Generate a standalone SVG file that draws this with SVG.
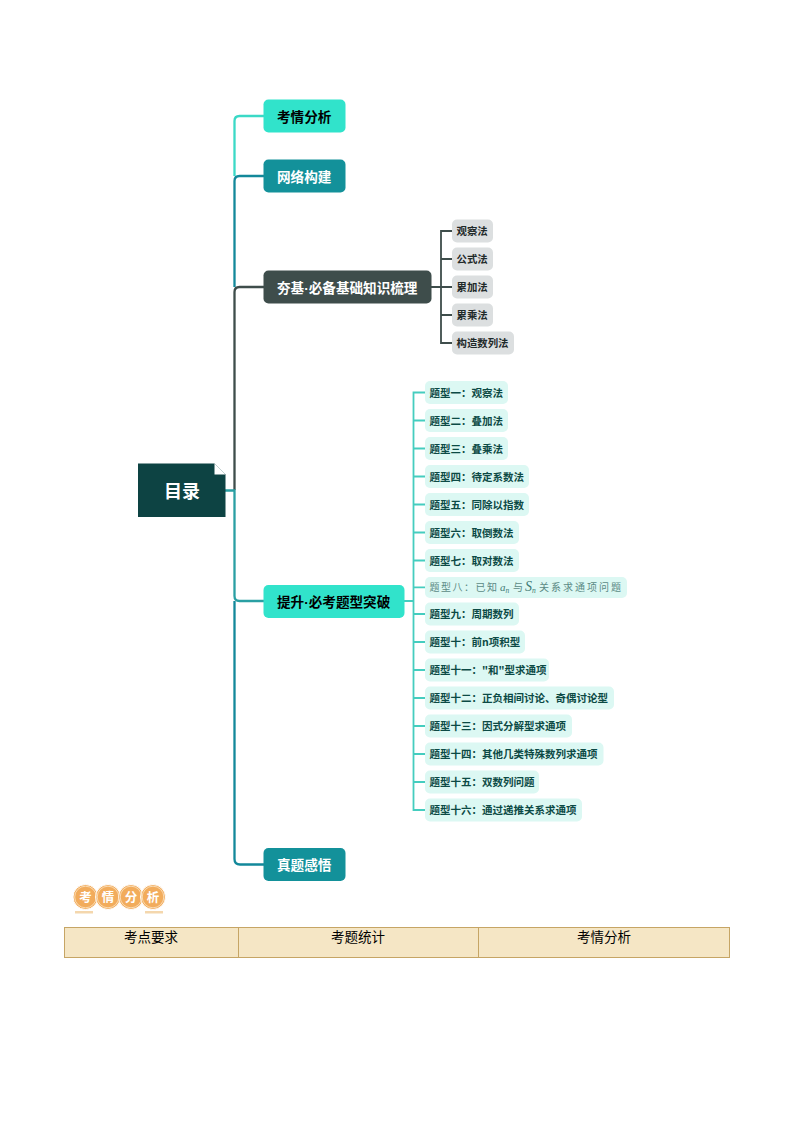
<svg xmlns="http://www.w3.org/2000/svg" width="794" height="1123" viewBox="0 0 794 1123">
<style>
text{font-family:"Noto Sans CJK SC","Noto Sans",sans-serif;font-weight:700}
.main{font-size:13.6px;text-anchor:start}
.dot{font-family:"Liberation Sans",sans-serif}
.l1{fill:#31e3cb}.t1{fill:#000}
.l2{fill:#13919a}.t2{fill:#fff}
.l3{fill:#3e4d4b}
.g{fill:#dcdfe0}.gt{font-size:10.4px;fill:#1f2a2a}
.q{fill:#dcf8f3}.qt{font-size:10.5px;fill:#0c4a45}
.q8t{font-size:10px;font-weight:400;fill:#5b8a85}
.q8m{font-family:"Liberation Serif",serif;font-style:italic;font-weight:400;fill:#3f7a74}
.c{fill:none;stroke-width:2.300}
.cl{stroke:#3bd9c6}.ct{stroke:#13889a}.cm{stroke:#2a9fa3}.cd{stroke:#3e4d4b}
.cq{fill:none;stroke:#45cdbf;stroke-width:1.800}
.cg{fill:none;stroke:#3e4d4b;stroke-width:1.800}
.badge{fill:#f2ac5c;stroke:#fff;stroke-width:1}
.badgeRing{fill:none;stroke:#fbe6c8;stroke-width:.8}
.bt{font-size:12.500px;fill:#fff;text-anchor:middle}
.bar{fill:#f4d7ad}
.th{font-size:13.500px;font-weight:400;fill:#000;text-anchor:middle}
.cell{fill:#f5e6c5;stroke:#c6a565;stroke-width:1}
</style>
<g id="connectors">
<path class="c cl" d="M234.500 176V121Q234.500 116 239.500 116H264"/>
<path class="c ct" d="M234.500 287V181Q234.500 176 239.500 176H264"/>
<path class="c cd" d="M234.500 490V292Q234.500 287 239.500 287H264"/>
<path class="c cm" d="M225 490.500H234.500V596Q234.500 601 239.500 601H264"/>
<path class="c ct" d="M234.500 601V859Q234.500 864.500 240 864.500H264"/>
<path class="cg" d="M431 287H441M452 231H441V343H452M441 259H452M441 287H452M441 315H452"/>
<path class="cq" d="M404 601H413.500M425 392.500H413.500V810H425M413.500 420.500H425M413.500 448.500H425M413.500 476.500H425M413.500 504.500H425M413.500 532.500H425M413.500 560.500H425M413.500 587.300H425M413.500 614H425M413.500 642H425M413.500 670H425M413.500 698H425M413.500 726H425M413.500 754H425M413.500 782H425"/>
</g>
<g id="root">
<path d="M138 463.500H214.500L225.500 474.500V517H138Z" fill="#0d4343"/>
<path d="M214.500 463.500L225.500 474.500H214.500Z" fill="#fff"/>
<text x="182" y="497.500" font-size="18" fill="#fff" text-anchor="middle">目录</text>
</g>
<g id="n-kaoqing"><rect class="l1" x="263.500" y="99.500" width="82" height="33" rx="5"/><text class="main t1" x="277" y="121.500">考情分析</text></g>
<g id="n-wangluo"><rect class="l2" x="263.500" y="159.500" width="82" height="33" rx="5"/><text class="main t2" x="277" y="181.500">网络构建</text></g>
<g id="n-hangji"><rect class="l3" x="263.500" y="270.500" width="168" height="33" rx="5"/><text class="main t2" x="277" y="292.500">夯基<tspan class="dot">·</tspan>必备基础知识梳理</text></g>
<g id="n-tisheng"><rect class="l1" x="263.500" y="585" width="141" height="33" rx="5"/><text class="main t1" x="277" y="606.500">提升<tspan class="dot">·</tspan>必考题型突破</text></g>
<g id="n-zhenti"><rect class="l2" x="263.500" y="848" width="82" height="33" rx="5"/><text class="main t2" x="277" y="870">真题感悟</text></g>
<g id="m1"><rect class="g" x="452" y="219.500" width="41" height="23" rx="5"/><text class="gt" x="456.500" y="235">观察法</text></g>
<g id="m2"><rect class="g" x="452" y="247.500" width="41" height="23" rx="5"/><text class="gt" x="456.500" y="263">公式法</text></g>
<g id="m3"><rect class="g" x="452" y="275.500" width="41" height="23" rx="5"/><text class="gt" x="456.500" y="291">累加法</text></g>
<g id="m4"><rect class="g" x="452" y="303.500" width="41" height="23" rx="5"/><text class="gt" x="456.500" y="319">累乘法</text></g>
<g id="m5"><rect class="g" x="452" y="331.500" width="62" height="23" rx="5"/><text class="gt" x="456.500" y="347">构造数列法</text></g>
<g id="q1"><rect class="q" x="425" y="381" width="83" height="23" rx="5"/><text class="qt" x="429.500" y="396.500">题型一：观察法</text></g>
<g id="q2"><rect class="q" x="425" y="409" width="83" height="23" rx="5"/><text class="qt" x="429.500" y="424.500">题型二：叠加法</text></g>
<g id="q3"><rect class="q" x="425" y="437" width="83" height="23" rx="5"/><text class="qt" x="429.500" y="452.500">题型三：叠乘法</text></g>
<g id="q4"><rect class="q" x="425" y="465" width="104" height="23" rx="5"/><text class="qt" x="429.500" y="480.500">题型四：待定系数法</text></g>
<g id="q5"><rect class="q" x="425" y="493" width="104" height="23" rx="5"/><text class="qt" x="429.500" y="508.500">题型五：同除以指数</text></g>
<g id="q6"><rect class="q" x="425" y="521" width="94" height="23" rx="5"/><text class="qt" x="429.500" y="536.500">题型六：取倒数法</text></g>
<g id="q7"><rect class="q" x="425" y="549" width="94" height="23" rx="5"/><text class="qt" x="429.500" y="564.500">题型七：取对数法</text></g>
<g id="q8"><rect class="q" x="425" y="577" width="202" height="21" rx="5"/>
<text class="q8t" x="429.500" y="591" letter-spacing="1.500">题型八：已知</text>
<text class="q8m" x="500" y="591" font-size="11">a<tspan font-size="7.500" dy="2">n</tspan></text>
<text class="q8t" x="513" y="591">与</text>
<text class="q8m" x="525" y="591" font-size="14">S<tspan font-size="7.500" dy="2">n</tspan></text>
<text class="q8t" x="539" y="591" letter-spacing="2">关系求通项问题</text></g>
<g id="q9"><rect class="q" x="425" y="602.500" width="94" height="23" rx="5"/><text class="qt" x="429.500" y="618">题型九：周期数列</text></g>
<g id="q10"><rect class="q" x="425" y="630.500" width="100" height="23" rx="5"/><text class="qt" x="429.500" y="646">题型十：前n项积型</text></g>
<g id="q11"><rect class="q" x="425" y="658.500" width="124" height="23" rx="5"/><text class="qt" x="429.500" y="674">题型十一："和"型求通项</text></g>
<g id="q12"><rect class="q" x="425" y="686.500" width="189" height="23" rx="5"/><text class="qt" x="429.500" y="702">题型十二：正负相间讨论、奇偶讨论型</text></g>
<g id="q13"><rect class="q" x="425" y="714.500" width="147" height="23" rx="5"/><text class="qt" x="429.500" y="730">题型十三：因式分解型求通项</text></g>
<g id="q14"><rect class="q" x="425" y="742.500" width="178.500" height="23" rx="5"/><text class="qt" x="429.500" y="758">题型十四：其他几类特殊数列求通项</text></g>
<g id="q15"><rect class="q" x="425" y="770.500" width="114" height="23" rx="5"/><text class="qt" x="429.500" y="786">题型十五：双数列问题</text></g>
<g id="q16"><rect class="q" x="425" y="798.500" width="157" height="23" rx="5"/><text class="qt" x="429.500" y="814">题型十六：通过递推关系求通项</text></g>
<g id="badge">
<rect class="bar" x="75" y="911" width="18" height="2.500"/>
<rect class="bar" x="145" y="911" width="18" height="2.500"/>
<circle class="badge" cx="85.500" cy="897" r="12.500"/><circle class="badge" cx="108" cy="897" r="12.500"/><circle class="badge" cx="131" cy="897" r="12.500"/><circle class="badge" cx="153" cy="897" r="12.500"/>
<circle class="badgeRing" cx="85.500" cy="897" r="10.800"/><circle class="badgeRing" cx="108" cy="897" r="10.800"/><circle class="badgeRing" cx="131" cy="897" r="10.800"/><circle class="badgeRing" cx="153" cy="897" r="10.800"/>
<text class="bt" x="85.500" y="901.500">考</text><text class="bt" x="108" y="901.500">情</text><text class="bt" x="131" y="901.500">分</text><text class="bt" x="153" y="901.500">析</text>
</g>
<g id="table">
<rect class="cell" x="64.500" y="927.500" width="174" height="30"/>
<rect class="cell" x="238.500" y="927.500" width="240" height="30"/>
<rect class="cell" x="478.500" y="927.500" width="251" height="30"/>
<text class="th" x="151" y="941.500">考点要求</text>
<text class="th" x="358" y="941.500">考题统计</text>
<text class="th" x="604" y="941.500">考情分析</text>
</g>
</svg>
